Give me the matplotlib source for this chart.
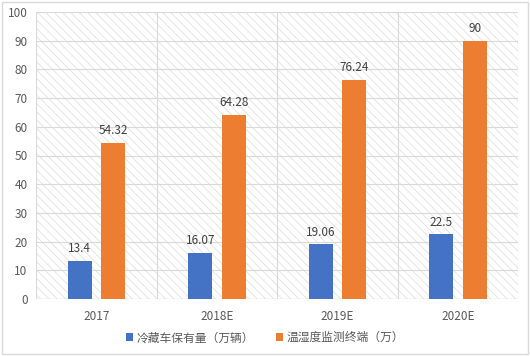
import matplotlib
matplotlib.use("Agg")
import matplotlib.pyplot as plt
import numpy as np
from matplotlib.patches import Rectangle

plt.rcParams['font.family'] = ['Noto Sans CJK SC', 'DejaVu Sans']
plt.rcParams['hatch.linewidth'] = 0.5
plt.rcParams['hatch.color'] = '#dcdcdc'

years = ['2017', '2018E', '2019E', '2020E']
cold_trucks = [13.4, 16.07, 19.06, 22.5]
monitors = [54.32, 64.28, 76.24, 90]
labels = ['冷藏车保有量（万辆）', '温湿度监测终端（万）']
colors = ['#4472c4', '#ed7d31']
text_color = '#595959'

fig = plt.figure(figsize=(5.3, 3.56), dpi=100)
fig.patches.append(Rectangle((0.004, 0.006), 0.992, 0.988, transform=fig.transFigure,
                             fill=False, edgecolor='#d9d9d9', linewidth=1))
ax = fig.add_axes([36 / 530, 1 - 299 / 356, 482 / 530, 287 / 356])

x = np.arange(len(years))
w = 0.2
b1 = ax.bar(x - 0.137, cold_trucks, w, color=colors[0], label=labels[0], zorder=3)
b2 = ax.bar(x + 0.14, monitors, w, color=colors[1], label=labels[1], zorder=3)

for bars, vals in [(b1, cold_trucks), (b2, monitors)]:
    for r, v in zip(bars, vals):
        ax.text(r.get_x() + r.get_width() / 2, v + 2.0, f'{v:g}', ha='center', va='bottom',
                fontsize=8.5, color='#404040', zorder=4)

# hatched background
ax.add_patch(Rectangle((0, 0), 1, 1, transform=ax.transAxes, facecolor='white',
                       hatch='\\\\\\\\', edgecolor='#dcdcdc', linewidth=0, zorder=0))

ax.set_xlim(-0.5, 3.5)
ax.set_ylim(0, 100)
ax.set_yticks(range(0, 101, 10))
ax.set_xticks(x)
ax.set_xticklabels(years)
for yv in range(10, 101, 10):
    ax.axhline(yv, color='#d9d9d9', linewidth=0.8, zorder=1)
for xv in np.arange(-0.5, 3.6, 1.0):
    ax.axvline(xv, color='#d9d9d9', linewidth=0.8, zorder=1)
ax.axhline(0, color='#d9d9d9', linewidth=1, zorder=2)

for s in ax.spines.values():
    s.set_visible(False)
ax.tick_params(length=0, colors=text_color, labelsize=8.5)
ax.tick_params(axis='x', pad=8)
ax.tick_params(axis='y', pad=6)

fig.legend(loc='lower center', bbox_to_anchor=(0.5, 0.003), ncol=2, frameon=False,
           fontsize=8.5, labelcolor=text_color, handlelength=0.6, handleheight=0.6,
           handletextpad=0.3, columnspacing=1.9)

fig.savefig('out.png', dpi=100)
